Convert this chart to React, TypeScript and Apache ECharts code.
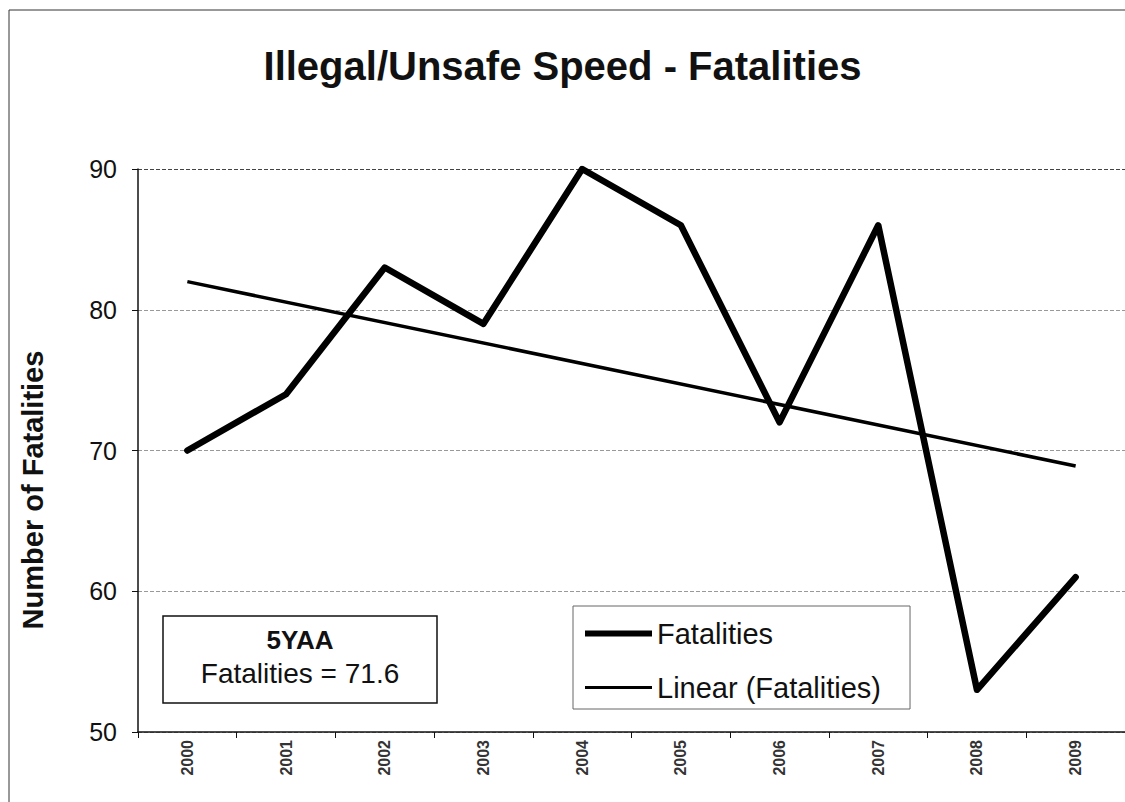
import React, { useEffect, useRef } from "react";
import * as echarts from "echarts";

const years = ["2000", "2001", "2002", "2003", "2004", "2005", "2006", "2007", "2008", "2009"];
const fatalities = [70, 74, 83, 79, 90, 86, 72, 86, 53, 61];
// trend line end points (2000 and 2009)
const trendStart = 82.0;
const trendEnd = 68.9;
const yMin = 50;
const yMax = 90;
const yInterval = 10;
const fiveYearAvg = 71.6;

const FONT = "'Liberation Sans', Arial, sans-serif";

export default function App() {
  const ref = useRef<HTMLDivElement>(null);

  useEffect(() => {
    document.body.style.margin = "0";
    if (!ref.current) return;
    const chart = echarts.init(ref.current, null, { renderer: "svg" });

    const trendData = years.map((_, i) =>
      i === 0 ? trendStart : i === years.length - 1 ? trendEnd : null
    );

    chart.setOption({
      animation: false,
      backgroundColor: "#ffffff",
      textStyle: { fontFamily: FONT, color: "#111" },
      title: {
        text: "Illegal/Unsafe Speed - Fatalities",
        left: "center",
        top: 46,
        padding: 0,
        textStyle: { fontSize: 40, fontWeight: "bold", color: "#111", fontFamily: FONT },
      },
      grid: { left: 138, top: 169, width: 997, height: 563 },
      xAxis: {
        type: "category",
        data: years,
        boundaryGap: true,
        axisLine: { show: true, lineStyle: { color: "#111", width: 1.5 } },
        axisTick: { show: true, length: 6, lineStyle: { color: "#111", width: 1 } },
        axisLabel: {
          rotate: 90,
          fontSize: 16,
          fontWeight: "bold",
          margin: 8,
          color: "#333",
          fontFamily: FONT,
        },
        splitLine: { show: false },
      },
      yAxis: {
        type: "value",
        min: yMin,
        max: yMax,
        interval: yInterval,
        axisLine: { show: true, lineStyle: { color: "#111", width: 1.5 } },
        axisTick: { show: true, length: 6, lineStyle: { color: "#111", width: 1 } },
        axisLabel: { fontSize: 25, margin: 21, color: "#111", fontFamily: FONT },
        splitLine: {
          show: true,
          lineStyle: { color: ["#999", "#999", "#999", "#999", "#444"], type: "dashed", width: 1 },
        },
      },
      legend: {
        orient: "vertical",
        left: 573,
        top: 606,
        padding: [13, 29, 7, 12],
        itemWidth: 67,
        itemHeight: 28,
        itemGap: 25,
        symbolKeepAspect: true,
        borderColor: "#666",
        borderWidth: 1,
        backgroundColor: "#ffffff",
        textStyle: { fontSize: 29, color: "#111", fontFamily: FONT },
        data: [
          { name: "Fatalities", icon: "path://M0,0L67,0L67,6L0,6Z", itemStyle: { color: "#000" } },
          { name: "Linear (Fatalities)", icon: "path://M0,0L67,0L67,3L0,3Z", itemStyle: { color: "#000" } },
        ],
      },
      graphic: [
        {
          type: "rect",
          z: -10,
          silent: true,
          shape: { x: 9, y: 10, width: 2000, height: 2000 },
          style: { fill: "transparent", stroke: "#333", lineWidth: 1 },
        },
        {
          type: "text",
          x: 33,
          y: 490,
          rotation: Math.PI / 2,
          style: {
            text: "Number of Fatalities",
            fontSize: 29,
            fontWeight: "bold",
            fontFamily: FONT,
            fill: "#111",
            align: "center",
            verticalAlign: "middle",
          },
        },
        {
          type: "group",
          z: 100,
          children: [
            {
              type: "rect",
              shape: { x: 163, y: 616, width: 274, height: 87 },
              style: { fill: "#ffffff", stroke: "#111", lineWidth: 1.5 },
            },
            {
              type: "text",
              x: 300,
              y: 640,
              style: {
                text: "5YAA",
                fontSize: 26,
                fontWeight: "bold",
                fontFamily: FONT,
                fill: "#111",
                align: "center",
                verticalAlign: "middle",
              },
            },
            {
              type: "text",
              x: 300,
              y: 673,
              style: {
                text: `Fatalities = ${fiveYearAvg}`,
                fontSize: 28,
                fontFamily: FONT,
                fill: "#111",
                align: "center",
                verticalAlign: "middle",
              },
            },
          ],
        },
      ],
      series: [
        {
          name: "Fatalities",
          type: "line",
          data: fatalities,
          symbol: "none",
          z: 3,
          lineStyle: { color: "#000", width: 6.5, join: "round", cap: "round" },
          itemStyle: { color: "#000" },
        },
        {
          name: "Linear (Fatalities)",
          type: "line",
          data: trendData,
          connectNulls: true,
          symbol: "none",
          z: 2,
          lineStyle: { color: "#000", width: 3.5 },
          itemStyle: { color: "#000" },
        },
      ],
    });

    return () => chart.dispose();
  }, []);

  return <div ref={ref} style={{ width: 1125, height: 802 }} />;
}
